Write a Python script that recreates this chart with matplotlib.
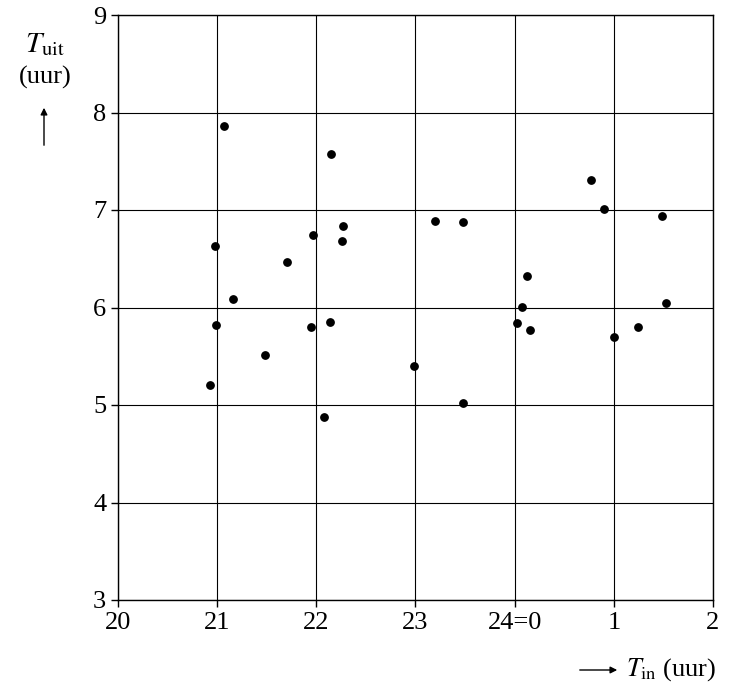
import matplotlib
matplotlib.use("Agg")
import matplotlib.pyplot as plt

t_in = [20.93,20.98,20.99,21.07,21.16,21.48,21.70,21.95,21.97,22.08,22.14,22.15,22.27,22.26,
        22.98,23.20,23.48,23.48,24.02,24.07,24.12,24.15,24.77,24.90,25.00,25.24,25.49,25.53]
t_uit = [5.21,6.63,5.82,7.86,6.09,5.51,6.47,5.80,6.74,4.88,5.85,7.57,6.84,6.68,
         5.40,6.89,6.88,5.02,5.84,6.01,6.32,5.77,7.31,7.01,5.70,5.80,6.94,6.05]
x_ticks = [20,21,22,23,24,25,26]
x_labels = ["20","21","22","23","24=0","1","2"]
y_ticks = [3,4,5,6,7,8,9]

plt.rcParams['font.family'] = ['Liberation Serif', 'DejaVu Serif']
plt.rcParams['mathtext.fontset'] = 'stix'
fig = plt.figure(figsize=(7.29, 6.98), dpi=100)
ax = fig.add_axes([118/729, 1-600/698, (713-118)/729, (600-15)/698])
ax.scatter(t_in, t_uit, s=28, color='black', zorder=3)
ax.set_xlim(20, 26); ax.set_ylim(3, 9)
ax.set_xticks(x_ticks); ax.set_xticklabels(x_labels)
ax.set_yticks(y_ticks)
ax.grid(True, color='black', linewidth=0.8)
for s in ax.spines.values():
    s.set_linewidth(1.0)
ax.tick_params(labelsize=19, direction='out', length=5, width=1, colors='black')
fig.text(45/729, 1-45/698, r'$T_{\rm uit}$', fontsize=21, ha='center', va='center')
fig.text(45/729, 1-77/698, '(uur)', fontsize=19, ha='center', va='center')
fig.add_artist(matplotlib.patches.FancyArrowPatch((44/729, 1-148/698), (44/729, 1-105/698),
               transform=fig.transFigure, arrowstyle='-|>', mutation_scale=10, color='black', lw=1))
fig.add_artist(matplotlib.patches.FancyArrowPatch((577/729, 1-670/698), (620/729, 1-670/698),
               transform=fig.transFigure, arrowstyle='-|>', mutation_scale=10, color='black', lw=1))
fig.text(626/729, 1-670/698, r'$T_{\rm in}$ (uur)', fontsize=19, ha='left', va='center')
fig.savefig('out.png', dpi=100)
